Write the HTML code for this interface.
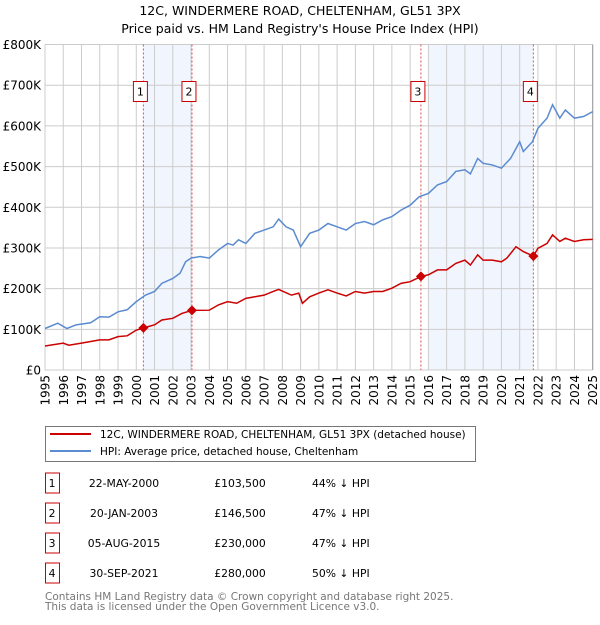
<!DOCTYPE html>
<html><head><meta charset="utf-8"><style>
body{margin:0;background:#fff;font-family:"Liberation Sans","DejaVu Sans",sans-serif;}
svg text{font-family:"DejaVu Sans","Liberation Sans",sans-serif;}
</style></head><body>
<svg id="c" width="600" height="620" xmlns="http://www.w3.org/2000/svg">
<text x="300" y="15" font-size="12.5" text-anchor="middle">12C, WINDERMERE ROAD, CHELTENHAM, GL51 3PX</text>
<text x="300" y="33" font-size="12.5" text-anchor="middle">Price paid vs. HM Land Registry's House Price Index (HPI)</text>
<g id="plot"></g>
<g>
<rect x="45.5" y="426.5" width="430" height="35" fill="#fff" stroke="#777"/>
<line x1="50" y1="434" x2="91" y2="434" stroke="#cc0000" stroke-width="2"/>
<text x="100" y="438" font-size="10.5">12C, WINDERMERE ROAD, CHELTENHAM, GL51 3PX (detached house)</text>
<line x1="50" y1="451" x2="91" y2="451" stroke="#5b8bd0" stroke-width="2"/>
<text x="100" y="455" font-size="10.5">HPI: Average price, detached house, Cheltenham</text>
</g>
<g id="tbl" font-size="10.8"></g>
<text x="45" y="600" font-size="10.5" fill="#777">Contains HM Land Registry data © Crown copyright and database right 2025.</text>
<text x="45" y="610" font-size="10.5" fill="#777">This data is licensed under the Open Government Licence v3.0.</text>
</svg>
<script>
const hpiYears=[1995,1995.7,1996.2,1996.7,1997.5,1998,1998.5,1999,1999.5,2000,2000.5,2001,2001.4,2002,2002.4,2002.7,2003,2003.5,2004,2004.5,2005,2005.3,2005.6,2006,2006.5,2007,2007.5,2007.8,2008.2,2008.6,2009,2009.5,2010,2010.5,2011,2011.5,2012,2012.5,2013,2013.5,2014,2014.5,2015,2015.5,2016,2016.5,2017,2017.5,2018,2018.3,2018.7,2019,2019.5,2020,2020.5,2021,2021.2,2021.7,2022,2022.5,2022.8,2023.2,2023.5,2024,2024.5,2025];
const hpiValues=[102,115,102,111,116,131,130,143,148,168,184,193,213,225,238,266,275,279,275,295,311,307,320,311,336,344,352,371,352,344,303,336,344,360,352,344,360,365,357,369,377,393,405,426,434,455,463,488,492,482,520,508,504,496,520,561,537,561,594,619,652,619,639,619,623,635];
const propYears=[1995,1996,1996.3,1997,1998,1998.5,1999,1999.5,2000,2000.4,2001,2001.4,2002,2002.5,2003.05,2004,2004.5,2005,2005.5,2006,2006.5,2007,2007.5,2007.8,2008.5,2008.9,2009.1,2009.5,2010,2010.5,2011,2011.5,2012,2012.5,2013,2013.5,2014,2014.5,2015,2015.6,2016,2016.5,2017,2017.5,2018,2018.3,2018.7,2019,2019.5,2020,2020.3,2020.8,2021.2,2021.75,2022,2022.5,2022.8,2023.2,2023.5,2024,2024.5,2025];
const propValues=[59,66,61,66,74,74,82,84,98,103.5,111,123,127,139,146.5,147,160,168,164,176,180,184,193,198,184,189,164,180,189,197,189,182,193,189,193,193,201,213,217,230,234,246,246,262,270,258,283,270,270,266,275,303,291,280,299,311,332,316,324,316,320,321];
const saleLabels=["1","2","3","4"];
const saleYears=[2000.39,2003.05,2015.59,2021.75];
const salePrices=[103.5,146.5,230,280];
const saleDates=["22-MAY-2000","20-JAN-2003","05-AUG-2015","30-SEP-2021"];
const salePriceText=["£103,500","£146,500","£230,000","£280,000"];
const saleHpiText=["44% ↓ HPI","47% ↓ HPI","47% ↓ HPI","50% ↓ HPI"];
const yTicks=[0,100,200,300,400,500,600,700,800];
const yTickLabels=["£0","£100K","£200K","£300K","£400K","£500K","£600K","£700K","£800K"];
const xTicks=[1995,1996,1997,1998,1999,2000,2001,2002,2003,2004,2005,2006,2007,2008,2009,2010,2011,2012,2013,2014,2015,2016,2017,2018,2019,2020,2021,2022,2023,2024,2025];
const shadeStarts=[2000.39,2016.0];
const shadeEnds=[2003.05,2021.75];

const L=45,R=592.7,T=44.5,B=370;
const x=y=>L+(y-1995)/30*(R-L);
const yv=v=>B-v/800*(B-T);
const NS="http://www.w3.org/2000/svg";
const g=document.getElementById('plot');
function mk(t,a,p){const e=document.createElementNS(NS,t);for(const k in a)e.setAttribute(k,a[k]);(p||g).appendChild(e);return e;}
for(let i=0;i<shadeStarts.length;i++){
 const r=mk('rect',{x:x(shadeStarts[i]),y:T,width:x(shadeEnds[i])-x(shadeStarts[i]),height:B-T,fill:'#eef3fc',opacity:0.8});
 
 
}
xTicks.forEach(t=>{const l=mk('line',{x1:x(t),x2:x(t),y1:T,y2:B,stroke:'#cccccc','stroke-width':1});
 
 const tx=mk('text',{x:0,y:0,'font-size':12,'text-anchor':'end',transform:`translate(${x(t)+4.5},${B+5}) rotate(-90)`});tx.textContent=t;
 });
yTicks.forEach((t,i)=>{const l=mk('line',{x1:L,x2:R,y1:yv(t),y2:yv(t),stroke:'#cccccc','stroke-width':1});
 
 const tx=mk('text',{x:41,y:yv(t)+4.5,'font-size':12,'text-anchor':'end'});tx.textContent=yTickLabels[i];
 });
mk('line',{x1:R,x2:R,y1:T,y2:B,stroke:'#999','stroke-width':1});
saleYears.forEach((s,i)=>{const l=mk('line',{x1:x(s),x2:x(s),y1:T,y2:B,stroke:'#e05050','stroke-width':1,'stroke-dasharray':'2,2'});
 
 const bx=mk('rect',{x:x(s)-10,y:81.5,width:14,height:20,fill:'#fff',stroke:'#cc0000'});
 
 const tx=mk('text',{x:x(s)-3,y:95.5,'font-size':11,'text-anchor':'middle'});tx.textContent=saleLabels[i];
 });
const hp=mk('polyline',{points:hpiYears.map((v,i)=>x(v)+','+yv(hpiValues[i])).join(' '),fill:'none',stroke:'#5b8bd0','stroke-width':1.5});

const pp=mk('polyline',{points:propYears.map((v,i)=>x(v)+','+yv(propValues[i])).join(' '),fill:'none',stroke:'#cc0000','stroke-width':1.5});

saleYears.forEach((s,i)=>{const cx=x(s),cy=yv(salePrices[i]);
 const d=mk('polygon',{points:`${cx},${cy-5} ${cx+5},${cy} ${cx},${cy+5} ${cx-5},${cy}`,fill:'#cc0000'});
 });
const tb=document.getElementById('tbl');
saleLabels.forEach((s,i)=>{const cy=483+i*30;
 const r=mk('rect',{x:45.5,y:cy-10,width:14,height:20,fill:'#fff',stroke:'#cc0000'},tb);
 
 const cols=[[52,s,'middle'],[124,saleDates[i],'middle'],[240,salePriceText[i],'middle'],[312,saleHpiText[i],'start']];
 cols.forEach(c=>{const t=mk('text',{x:c[0],y:cy+4,'text-anchor':c[2]},tb);t.textContent=c[1];
  });
});
</script>
</body></html>
